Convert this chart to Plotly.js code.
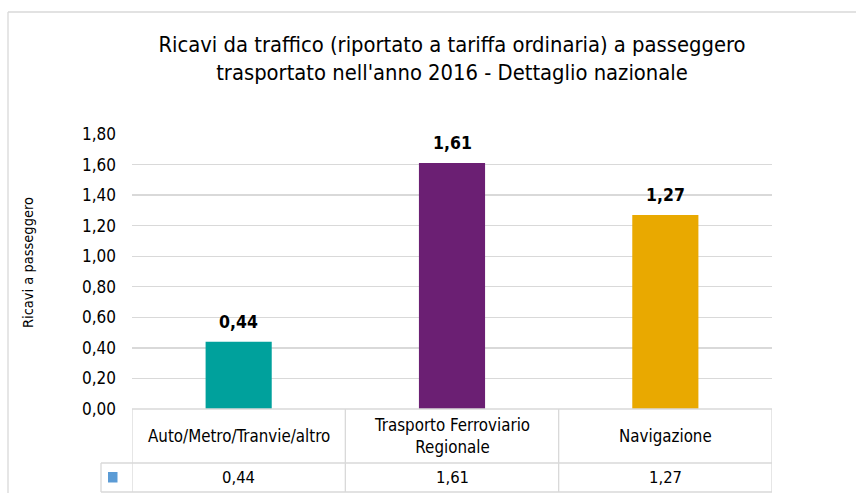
<!DOCTYPE html>
<html>
<head>
<meta charset="utf-8">
<script src="https://cdn.plot.ly/plotly-3.0.1.min.js"></script>
<style>html,body{margin:0;padding:0;background:#fff;}#chart{width:856px;height:493px;}</style>
</head>
<body>
<div id="chart"></div>
<script>
// ---- data ----
var categories = ['Auto/Metro/Tranvie/altro', 'Trasporto Ferroviario Regionale', 'Navigazione'];
var headerLabels = ['Auto/Metro/Tranvie/altro', 'Trasporto Ferroviario<br>Regionale', 'Navigazione'];
var values = [0.44, 1.61, 1.27];
var barColors = ['#00A19C', '#6B1F73', '#E9A900'];
var yTicks = [0, 0.2, 0.4, 0.6, 0.8, 1.0, 1.2, 1.4, 1.6, 1.8];
var titleText = "Ricavi da traffico (riportato a tariffa ordinaria) a passeggero<br>trasportato nell'anno 2016 - Dettaglio nazionale";
var yTitle = 'Ricavi a passeggero';

// ---- layout helpers ----
var W = 856, H = 493;
var M = {l: 132, r: 84, t: 134, b: 84};
var PW = W - M.l - M.r, PH = H - M.t - M.b;
function px(x) { return (x - M.l) / PW; }
function py(y) { return (H - M.b - y) / PH; }
var FONT = '"Liberation Sans Narrow", "Arial Narrow", "DejaVu Sans Condensed", "DejaVu Sans", sans-serif';
var GRID = '#D9D9D9';
function fmt(v) { return v.toFixed(2).replace('.', ','); }

var trace = {
  type: 'bar',
  x: categories,
  y: values,
  marker: {color: barColors},
  width: 0.31,
  hoverinfo: 'none',
  showlegend: false
};

var annotations = [];
var shapes = [];
var rowTop = H - M.b, rowMid = 463, rowBot = 492, keyLeft = 101;

categories.forEach(function (c, i) {
  // data label above bar
  annotations.push({x: c, y: values[i], xref: 'x', yref: 'y', text: '<b>' + fmt(values[i]) + '</b>',
    showarrow: false, yanchor: 'bottom', yshift: 8, font: {family: FONT, size: 17.5, color: '#000'}});
  // table header
  annotations.push({x: c, y: py((rowTop + rowMid) / 2), xref: 'x', yref: 'paper', text: headerLabels[i],
    showarrow: false, yanchor: 'middle', font: {family: FONT, size: 16.8, color: '#000'}});
  // table value
  annotations.push({x: c, y: py((rowMid + rowBot) / 2), xref: 'x', yref: 'paper', text: fmt(values[i]),
    showarrow: false, yanchor: 'middle', font: {family: FONT, size: 16.5, color: '#000'}});
});

// y axis title
annotations.push({x: px(28), y: py(263), xref: 'paper', yref: 'paper', text: yTitle, textangle: -90,
  showarrow: false, xanchor: 'center', yanchor: 'middle', font: {family: FONT, size: 14.5, color: '#000'}});

// table grid
var lineStyle = {color: GRID, width: 1.3};
for (var k = 0; k <= categories.length; k++) {
  shapes.push({type: 'line', xref: 'x', yref: 'paper', x0: k - 0.5, x1: k - 0.5, y0: py(rowTop), y1: py(rowBot), line: lineStyle});
}
shapes.push({type: 'line', xref: 'paper', yref: 'paper', x0: 0, x1: 1, y0: py(rowTop), y1: py(rowTop), line: lineStyle});
shapes.push({type: 'line', xref: 'paper', yref: 'paper', x0: px(keyLeft), x1: 1, y0: py(rowMid), y1: py(rowMid), line: lineStyle});
shapes.push({type: 'line', xref: 'paper', yref: 'paper', x0: px(keyLeft), x1: 1, y0: py(rowBot), y1: py(rowBot), line: lineStyle});
shapes.push({type: 'line', xref: 'paper', yref: 'paper', x0: px(keyLeft), x1: px(keyLeft), y0: py(rowMid), y1: py(rowBot), line: lineStyle});
// legend key
shapes.push({type: 'rect', xref: 'paper', yref: 'paper', x0: px(108), x1: px(117.5), y0: py(472), y1: py(482.5),
  fillcolor: '#5B9BD5', line: {width: 0}});
// outer chart border (top and left)
shapes.push({type: 'line', xref: 'paper', yref: 'paper', x0: px(8), x1: px(W), y0: py(12), y1: py(12), line: {color: GRID, width: 1.3}});
shapes.push({type: 'line', xref: 'paper', yref: 'paper', x0: px(8), x1: px(8), y0: py(12), y1: py(H), line: {color: GRID, width: 1.3}});

var layout = {
  width: W, height: H,
  margin: M,
  paper_bgcolor: '#fff', plot_bgcolor: '#fff',
  separators: ',.',
  font: {family: FONT, color: '#000'},
  title: {text: titleText, x: 0.5, xref: 'paper', xanchor: 'center', y: 1 - 52 / H, yref: 'container', yanchor: 'middle',
    font: {family: FONT, size: 21.8, color: '#000'}},
  xaxis: {type: 'category', range: [-0.5, categories.length - 0.5], showticklabels: false, showgrid: false,
    zeroline: false, showline: false, ticks: '', fixedrange: true},
  yaxis: {range: [0, 1.8], tickvals: yTicks, tickformat: '.2f', showgrid: true, gridcolor: GRID, gridwidth: 1.3,
    zeroline: false, showline: false, ticks: '', ticklabelstandoff: 15, tickfont: {family: FONT, size: 17, color: '#000'}, fixedrange: true},
  annotations: annotations,
  shapes: shapes,
  bargap: 0.69
};

Plotly.newPlot('chart', [trace], layout, {displayModeBar: false, staticPlot: true});
</script>
</body>
</html>
